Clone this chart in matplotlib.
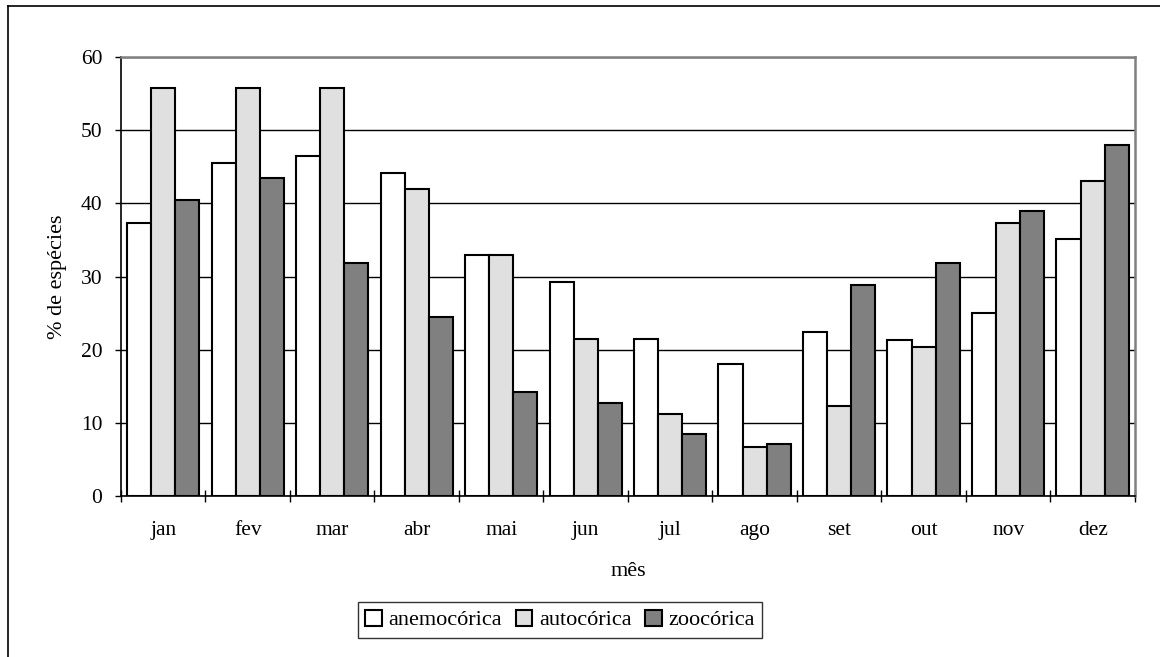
import numpy as np
import matplotlib
matplotlib.use("Agg")
import matplotlib.pyplot as plt
from matplotlib.lines import Line2D

plt.rcParams['font.family'] = ['Liberation Serif', 'DejaVu Serif']

meses = ["jan", "fev", "mar", "abr", "mai", "jun", "jul", "ago", "set", "out", "nov", "dez"]
anemocorica = [37.3, 45.5, 46.5, 44.1, 32.9, 29.3, 21.5, 18.1, 22.5, 21.4, 25.0, 35.1]
autocorica = [55.7, 55.7, 55.7, 42.0, 32.9, 21.5, 11.3, 6.7, 12.3, 20.4, 37.3, 43.0]
zoocorica = [40.5, 43.5, 31.9, 24.5, 14.2, 12.8, 8.5, 7.2, 28.8, 31.8, 39.0, 47.9]

series = [("anemocórica", anemocorica, "white"),
          ("autocórica", autocorica, "#e0e0e0"),
          ("zoocórica", zoocorica, "#808080")]

fig = plt.figure(figsize=(11.6, 6.57), dpi=100)
ax = fig.add_axes([0.1043, 0.2445, 0.8741, 0.669])

x = np.arange(len(meses))
w = 1.0 / 3.5
for i, (nome, vals, cor) in enumerate(series):
    ax.bar(x + (i - 1) * w, vals, w, color=cor, edgecolor="black",
           linewidth=1.5, label=nome, zorder=3)

ax.set_xlim(-0.5, len(meses) - 0.5)
ax.set_ylim(0, 60)
ax.set_yticks(range(0, 61, 10))
ax.yaxis.grid(True, color="black", linewidth=1.0, zorder=0)

# ticks between categories, labels at centres
ax.set_xticks(np.arange(-0.5, len(meses), 1.0))
ax.set_xticklabels([])
ax.set_xticks(x, minor=True)
ax.set_xticklabels(meses, minor=True)
ax.tick_params(axis="x", which="major", direction="inout", length=8, width=1, color="black")
ax.tick_params(axis="x", which="minor", length=0, pad=17.5, labelsize=15.5)
ax.tick_params(axis="y", direction="out", length=4.5, width=1, pad=9, labelsize=15.5)

for s in ["left", "bottom"]:
    ax.spines[s].set_color("black")
    ax.spines[s].set_linewidth(1.2)
for s in ["top", "right"]:
    ax.spines[s].set_color("#808080")
    ax.spines[s].set_linewidth(1.8)
ax.spines["bottom"].set_zorder(4)

ax.set_xlabel("mês", fontsize=16, labelpad=16)
ax.set_ylabel("% de espécies", fontsize=16, labelpad=10)

leg = fig.legend(loc="center", bbox_to_anchor=(560 / 1160, 1 - 620 / 657), ncol=3,
                 fontsize=16, frameon=True, fancybox=False, edgecolor="black",
                 handlelength=0.75, handleheight=0.75, handletextpad=0.3,
                 columnspacing=0.6, borderpad=0.35)
leg.get_frame().set_linewidth(1.0)
for h in leg.legend_handles:
    h.set_linewidth(1.5)

# outer chart frame (top and left visible)
fig.add_artist(Line2D([8 / 1160, 1.0], [1 - 6 / 657, 1 - 6 / 657], color="black", linewidth=1.2, transform=fig.transFigure))
fig.add_artist(Line2D([8 / 1160, 8 / 1160], [0.0, 1 - 6 / 657], color="black", linewidth=1.2, transform=fig.transFigure))

fig.savefig("out.png", dpi=100)
